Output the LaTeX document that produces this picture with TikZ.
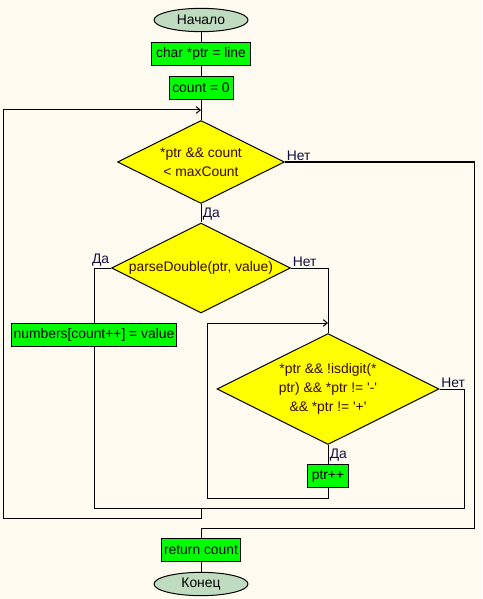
\documentclass[tikz,border=0pt]{standalone}
\usepackage{fontspec}
\setmainfont{Liberation Sans}[Ligatures=TeXOff]
\definecolor{paper}{HTML}{FFFBF0}
\definecolor{opgreen}{HTML}{00FF00}
\definecolor{condyellow}{HTML}{FFFF00}
\definecolor{termgray}{HTML}{C0DCC0}
\definecolor{condtext}{HTML}{3A0A00}
\definecolor{labeltext}{HTML}{101040}
\usetikzlibrary{shapes.geometric,arrows.meta,positioning}

\begin{document}
\begin{tikzpicture}[x=0.75pt,y=-0.75pt,line width=0.75pt,
    font=\fontsize{10.4}{14}\selectfont,
    terminal/.style={ellipse,draw,fill=termgray,minimum width=70.5pt,minimum height=17.5pt,inner sep=0pt},
    action/.style={rectangle,draw,fill=opgreen,minimum height=17.5pt,inner xsep=1.5pt,inner ysep=0pt},
    cond/.style={diamond,draw,fill=condyellow,aspect=2,inner sep=0pt,align=center,text=condtext},
    yesno/.style={inner sep=1pt,text=labeltext},
    flow/.style={-{Straight Barb[length=3pt,width=5pt]}}]
    \fill[paper] (0,0) rectangle (482,599);
    \useasboundingbox (0,0) rectangle (482,599);

    \node[terminal] (start) at (201,20) {Начало};
    \node[action,minimum width=74.25pt] (init) at (201,54) {char *ptr = line};
    \node[action,minimum width=48pt] (zero) at (201,88) {count = 0};
    \node[cond,minimum width=125.25pt,minimum height=62.25pt] (loop) at (201,162) {*ptr \&\& count\\< maxCount};
    \node[cond,minimum width=134.25pt,minimum height=67.5pt] (parse) at (201,268) {parseDouble(ptr, value)};
    \node[action,minimum width=122.25pt] (store) at (94,335) {numbers[count++] = value};
    \node[cond,minimum width=166.5pt,minimum height=83.25pt] (skip) at (328,389) {*ptr \&\& !isdigit(*\\ptr) \&\& *ptr != '-'\\\&\& *ptr != '+'};
    \node[action,minimum width=30.75pt] (inc) at (328,476) {ptr++};
    \node[action,minimum width=59.25pt] (ret) at (201,550) {return count};
    \node[terminal] (stop) at (201,584) {Конец};

    \coordinate (top) at (201,110);
    \coordinate (exitR) at (474,528);
    \coordinate (inner) at (328,323);
    \coordinate (innerL) at (207,498);
    \coordinate (bus) at (464,508);
    \coordinate (merge) at (201,508);
    \coordinate (outerL) at (3,518);

    \draw (start) -- (init);
    \draw (init) -- (zero);
    \draw (zero) -- (loop);
    \draw (loop.east) -| (exitR) -| (ret);
    \node[yesno,anchor=south west] (noLoop) at (loop.east) {Нет};
    \draw (loop) -- (parse);
    \node[yesno,anchor=north west,inner ysep=2.5pt] (yesLoop) at (loop.south) {Да};
    \draw (parse.west) -| (store);
    \node[yesno,anchor=south east] (yesParse) at (parse.west) {Да};
    \draw (parse.east) -| (skip);
    \node[yesno,anchor=south west] (noParse) at (parse.east) {Нет};
    \draw (skip) -- (inc);
    \node[yesno,anchor=north west,inner ysep=2.5pt] (yesSkip) at (skip.south) {Да};
    \draw[flow] (inc) |- (innerL) |- (inner);
    \draw (skip.east) -| (bus) -| (store);
    \node[yesno,anchor=south west] (noSkip) at (skip.east) {Нет};
    \draw[flow] (merge) |- (outerL) |- (top);
    \draw (ret) -- (stop);
\end{tikzpicture}
\end{document}
